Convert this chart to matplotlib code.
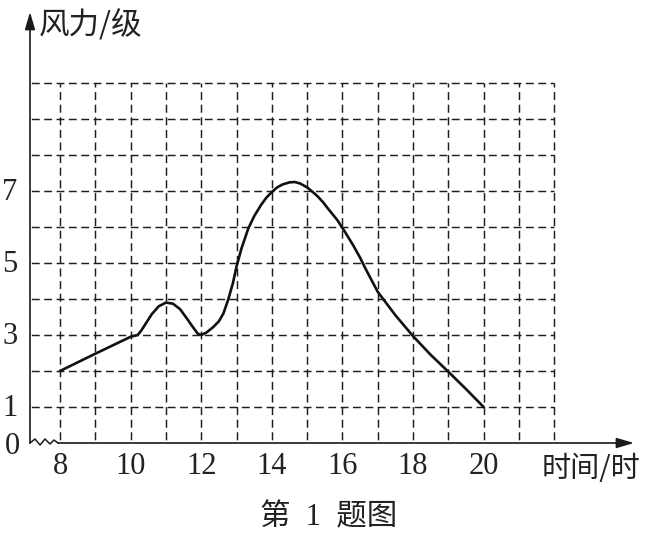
import numpy as np
import matplotlib
matplotlib.use('Agg')
import matplotlib.pyplot as plt

# data
hours = [8, 9, 10, 10.2, 10.3, 10.45, 10.6, 10.8, 11.0, 11.2, 11.4, 11.6, 11.75, 11.9, 12.0,
         12.15, 12.34, 12.5, 12.63, 12.77, 12.9, 13.0, 13.14, 13.33, 13.5, 13.7,
         13.85, 14.0, 14.15, 14.3, 14.5, 14.65, 14.8, 15.0, 15.15, 15.3, 15.45, 15.6, 15.85,
         16.05, 16.3, 16.5, 16.65, 17.0, 17.5, 18.0, 18.5, 19.0, 19.5, 20.0]
wind = [2.0, 2.48, 2.95, 3.0, 3.12, 3.35, 3.58, 3.8, 3.9, 3.87, 3.72, 3.45, 3.24, 3.04, 3.0,
        3.07, 3.22, 3.38, 3.6, 4.0, 4.45, 4.9, 5.4, 5.95, 6.3, 6.62,
        6.82, 6.97, 7.1, 7.18, 7.24, 7.25, 7.21, 7.1, 6.98, 6.85, 6.69, 6.5, 6.2,
        5.9, 5.5, 5.15, 4.85, 4.2, 3.55, 2.97, 2.45, 1.98, 1.5, 1.0]

x_ticks = [8, 10, 12, 14, 16, 18, 20]
y_ticks = [1, 3, 5, 7]
x_grid = np.arange(8, 23)
y_grid = np.arange(1, 11)

ylabel = '风力/级'
xlabel = '时间/时'
caption = '第  1  题图'

# pixel mapping of the picture
SX = 35.3
SY = 36.0
X0 = 6.30
def px(x):
    return X0 + x / SX
def py(y):
    return (443 - y) / SY

fig = plt.figure(figsize=(6.52, 5.42), dpi=100)
ax = fig.add_axes([0, 0, 1, 1])
ax.set_xlim(px(0), px(652))
ax.set_ylim(py(542), py(0))
ax.axis('off')

yaxis_x = px(30)
gcol = '#1e1e1e'
hls = (2.7, (5.4, 3.07))
vls = (2.75, (5.5, 3.14))

# grid
for yv in y_grid:
    ax.plot([8, x_grid[-1]], [yv, yv], color=gcol, lw=1.05,
            linestyle=hls, dash_capstyle='butt')
    ax.plot([8, yaxis_x], [yv, yv], color=gcol, lw=1.05,
            linestyle=hls, dash_capstyle='butt')
for xv in x_grid:
    ax.plot([xv, xv], [y_grid[-1], 0], color=gcol, lw=1.05,
            linestyle=vls, dash_capstyle='butt')

# axes with arrows
acol = '#1a1a1a'
ax.annotate('', xy=(yaxis_x, py(12)), xytext=(yaxis_x, 0),
            arrowprops=dict(arrowstyle='-|>,head_length=0.75,head_width=0.22',
                            lw=1.2, color=acol, mutation_scale=14, shrinkA=0, shrinkB=0))
ax.annotate('', xy=(px(634), 0), xytext=(px(58), 0),
            arrowprops=dict(arrowstyle='-|>,head_length=0.75,head_width=0.22',
                            lw=1.2, color=acol, mutation_scale=14, shrinkA=0, shrinkB=0))
zz = [(30, 443), (35, 439), (40, 445), (45, 439), (50, 444), (54, 440), (58, 443)]
ax.plot([px(a) for a, b in zz], [py(b) for a, b in zz], color=acol, lw=1.1)

# curve
ax.plot(hours, wind, color='#111111', lw=1.9, solid_joinstyle='round',
        solid_capstyle='round', zorder=5)

serif = 'Liberation Serif'
cjk = ['Noto Sans CJK SC', 'DejaVu Sans']
mixed = ['Liberation Serif', 'Noto Sans CJK SC']
tcol = '#222222'
for t in x_ticks:
    ax.text(t, py(467), str(t), ha='center', va='center', fontsize=22,
            family=serif, color=tcol)
for t in y_ticks:
    ax.text(px(10), t - 0.05, str(t), ha='center', va='center', fontsize=22,
            family=serif, color=tcol)
ax.text(px(12), py(446), '0', ha='center', va='center', fontsize=22,
        family=serif, color=tcol)

ax.text(px(39), py(25), ylabel, ha='left', va='center', fontsize=22,
        family=cjk, color=tcol)
ax.text(px(542), py(469), xlabel, ha='left', va='center', fontsize=21,
        family=cjk, color=tcol)
ax.text(px(329), py(518), caption, ha='center', va='center', fontsize=22,
        family=mixed, color=tcol)

fig.savefig('out.png', dpi=100)
